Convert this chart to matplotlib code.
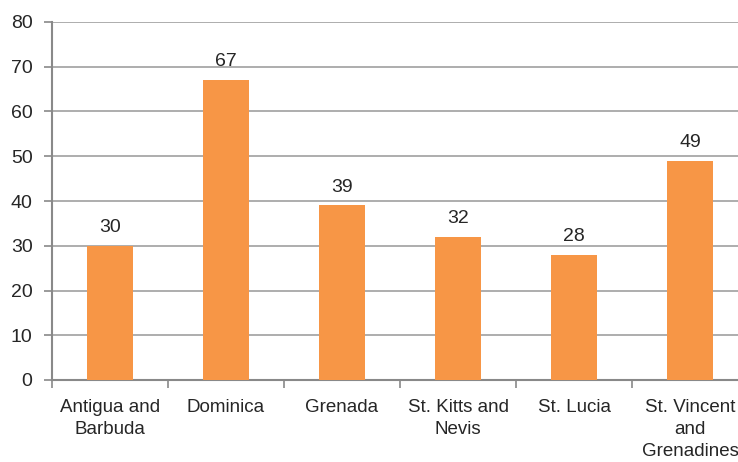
import matplotlib.pyplot as plt
import numpy as np

countries = ["Antigua and\nBarbuda", "Dominica", "Grenada", "St. Kitts and\nNevis",
             "St. Lucia", "St. Vincent\nand\nGrenadines"]
values = [30, 67, 39, 32, 28, 49]
yticks = [0, 10, 20, 30, 40, 50, 60, 70, 80]

plt.rcParams['font.family'] = ['Liberation Sans', 'DejaVu Sans']
text_color = '#262626'
axis_color = '#898989'

fig = plt.figure(figsize=(7.38, 4.62), dpi=100)
ax = fig.add_axes([52 / 738, 82 / 462, 696 / 738, 358 / 462])

x = np.arange(len(countries))
bars = ax.bar(x, values, width=0.4, color='#F79646', zorder=3)

for xi, v in zip(x, values):
    ax.annotate(str(v), (xi, v), xytext=(0, 7), textcoords='offset points',
                ha='center', va='bottom', fontsize=14, color=text_color)

ax.set_xlim(-0.5, len(countries) - 0.5)
ax.set_ylim(0, 80)
ax.set_yticks(yticks)
ax.tick_params(axis='y', labelsize=14, labelcolor=text_color, color=axis_color,
               length=6, width=1.2, pad=8)
ax.set_xticks(x)
ax.set_xticklabels(countries, linespacing=1.35)
ax.tick_params(axis='x', which='major', length=0, labelsize=13.5,
               labelcolor=text_color, pad=14)
ax.set_xticks(np.arange(-0.5, len(countries)), minor=True)
ax.tick_params(axis='x', which='minor', length=6, width=1.2, color=axis_color)

ax.yaxis.grid(True, color='#a0a0a0', linewidth=1.2, zorder=0)
ax.set_axisbelow(True)

for side in ['top', 'right']:
    ax.spines[side].set_visible(False)
for side in ['left', 'bottom']:
    ax.spines[side].set_color(axis_color)
    ax.spines[side].set_linewidth(1.5)

fig.savefig('out.png', dpi=100)
